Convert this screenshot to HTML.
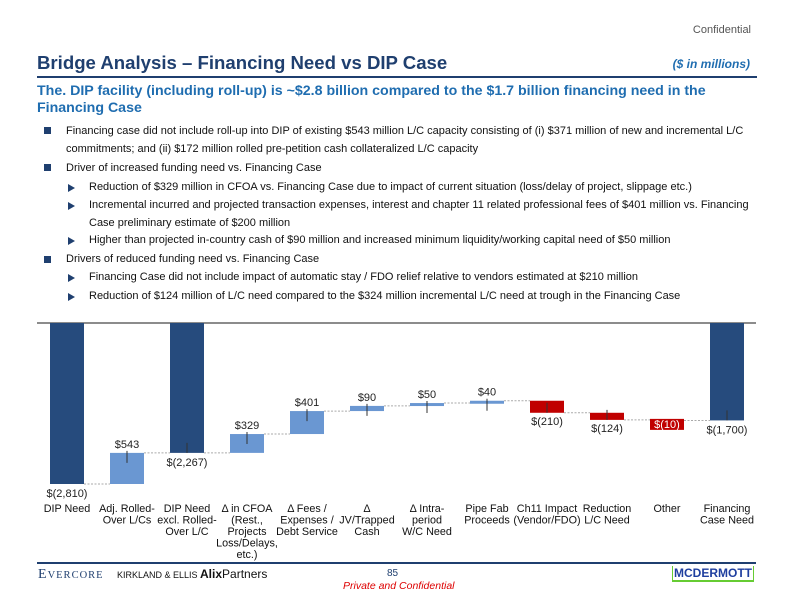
<!DOCTYPE html>
<html><head><meta charset="utf-8"><style>
body{margin:0;width:792px;height:612px;position:relative;background:#fff;font-family:"Liberation Sans",sans-serif;overflow:hidden}
.a{position:absolute;white-space:nowrap}
.b{font-size:11px;color:#111;position:absolute;left:66px;line-height:18px}
.sq{position:absolute;left:44px;width:7px;height:7px;background:#1f3f6f}
.tri{position:absolute;left:68px;width:0;height:0;border-left:7px solid #1f3f6f;border-top:4px solid transparent;border-bottom:4px solid transparent}
.s{left:89px}
</style></head><body>
<div class="a" style="right:41px;top:24px;font-size:11px;color:#555">Confidential</div>
<div class="a" style="left:37px;top:52px;font-size:18.6px;font-weight:bold;color:#1f3f6f">Bridge Analysis – Financing Need vs DIP Case</div>
<div class="a" style="right:42px;top:57px;font-size:12px;font-weight:bold;font-style:italic;color:#1f6db0">($ in millions)</div>
<div style="position:absolute;left:37px;top:76px;width:720px;height:2px;background:#1f3f6f"></div>
<div class="a" style="left:37px;top:83px;font-size:14.2px;font-weight:bold;color:#1f6db0;line-height:17px;white-space:normal;width:700px">The. DIP facility (including roll-up) is ~$2.8 billion compared to the $1.7 billion financing need in the Financing Case</div>
<div>
<div class="sq" style="top:127px"></div><div class="b" style="top:122px">Financing case did not include roll-up into DIP of existing $543 million L/C capacity consisting of (i) $371 million of new and incremental L/C<br>commitments; and (ii) $172 million rolled pre-petition cash collateralized L/C capacity</div>
<div class="sq" style="top:164px"></div><div class="b" style="top:159px">Driver of increased funding need vs. Financing Case</div>
<div class="tri" style="top:184px"></div><div class="b s" style="top:178px">Reduction of $329 million in CFOA vs. Financing Case due to impact of current situation (loss/delay of project, slippage etc.)</div>
<div class="tri" style="top:202px"></div><div class="b s" style="top:196px">Incremental incurred and projected transaction expenses, interest and chapter 11 related professional fees of $401 million vs. Financing<br>Case preliminary estimate of $200 million</div>
<div class="tri" style="top:237px"></div><div class="b s" style="top:231px">Higher than projected in-country cash of $90 million and increased minimum liquidity/working capital need of $50 million</div>
<div class="sq" style="top:256px"></div><div class="b" style="top:250px">Drivers of reduced funding need vs. Financing Case</div>
<div class="tri" style="top:274px"></div><div class="b s" style="top:268px">Financing Case did not include impact of automatic stay / FDO relief relative to vendors estimated at $210 million</div>
<div class="tri" style="top:293px"></div><div class="b s" style="top:287px">Reduction of $124 million of L/C need compared to the $324 million incremental L/C need at trough in the Financing Case</div>
</div>
<svg id="chart" width="792" height="612" style="position:absolute;left:0;top:0" font-family="Liberation Sans, sans-serif"></svg>
<div style="position:absolute;left:37px;top:562px;width:719px;height:2px;background:#1f3f6f"></div>
<div class="a" style="left:38px;top:567px;font-family:'Liberation Serif',serif;font-size:14px;color:#1f3f6f;letter-spacing:1px">E<span style="font-size:10.5px">VERCORE</span></div>
<div class="a" style="left:117px;top:570px;font-size:9px;color:#111">KIRKLAND &amp; ELLIS</div>
<div class="a" style="left:200px;top:567px;font-size:12px;color:#111"><b>Alix</b>Partners</div>
<div class="a" style="left:387px;top:568px;font-size:10px;color:#1f3f6f">85</div>
<div class="a" style="left:343px;top:580px;font-size:10.5px;font-style:italic;color:#d00">Private and Confidential</div>
<div class="a" style="left:672px;top:566px;font-size:12px;font-weight:bold;color:#1f3f9f;border-bottom:2px solid #6c3;border-left:1px solid #6c3;border-right:1px solid #6c3;padding:0 1px">MCDERMOTT</div>
<script>
const categories=[["DIP Need"],["Adj. Rolled-","Over L/Cs"],["DIP Need","excl. Rolled-","Over L/C"],["Δ in CFOA","(Rest.,","Projects","Loss/Delays,","etc.)"],["Δ Fees /","Expenses /","Debt Service"],["Δ","JV/Trapped","Cash"],["Δ Intra-","period","W/C Need"],["Pipe Fab","Proceeds"],["Ch11 Impact","(Vendor/FDO)"],["Reduction","L/C Need"],["Other"],["Financing","Case Need"]];
const values=[-2810,543,null,329,401,90,50,40,-210,-124,-10,null];
const totals=[-2810,null,-2267,null,null,null,null,null,null,null,null,-1700];
const labels=["$(2,810)","$543","$(2,267)","$329","$401","$90","$50","$40","$(210)","$(124)","$(10)","$(1,700)"];
const svg=document.getElementById('chart');const NS='http://www.w3.org/2000/svg';
const y0=323,sc=161/2810;
const y=v=>y0-v*sc;const xc=i=>67+i*60;const bw=34;
function mk(t,a){const e=document.createElementNS(NS,t);for(const k in a)e.setAttribute(k,a[k]);svg.appendChild(e);return e;}
let ax=mk('line',{x1:37,x2:756,y1:y0,y2:y0,stroke:'#666','stroke-width':1.5});


let run=0,prevEnd=null;
categories.forEach((c,i)=>{
 let top,bot,fill,end,isTot=totals[i]!==null;
 if(isTot){const t=totals[i];run=t;top=y(0);bot=y(t);fill='#264b7d';end=t;}
 else{const v=values[i];const s=run;run=s+v;top=y(Math.max(s,run));bot=y(Math.min(s,run));fill=v>=0?'#6a97d2':'#c00000';end=run;}
 if(prevEnd!==null){const l=mk('line',{x1:xc(i-1)+bw/2,x2:xc(i)-bw/2,y1:y(prevEnd),y2:y(prevEnd),stroke:'#aaa','stroke-width':1,'stroke-dasharray':'2,1.5'});
  
  }
 const v=values[i];
 const small=!isTot&&Math.abs(v)<20&&v<0;
 let rt=top,rh=Math.max(bot-top,3);
 if(small){rt=top-1;rh=11;}
 const r=mk('rect',{x:xc(i)-bw/2,y:rt,width:bw,height:rh,fill:fill});
 
 
 let ty1=null,ty2=null;
 if(isTot&&i>0){ty1=bot-10;ty2=bot;}
 else if(!isTot&&v>=0){ty1=top-2;ty2=top+10;}
 else if(!isTot&&!small){ty1=bot-10;ty2=bot;}
 if(ty1!==null){const tk=mk('line',{x1:xc(i),x2:xc(i),y1:ty1,y2:ty2,stroke:'#333','stroke-width':1});
 
 }
 let ly,lc='#222';
 if(isTot){ly=bot+13;}
 else if(small){ly=rt+9;lc='#fff';}
 else if(v>=0){ly=top-5;}else{ly=bot+12;}
 const tx=mk('text',{x:xc(i),y:ly,'text-anchor':'middle','font-size':11,fill:lc});tx.textContent=labels[i];
 
 
 c.forEach((ln,j)=>{const t=mk('text',{x:xc(i),y:512+j*11.5,'text-anchor':'middle','font-size':10.8,fill:'#111'});t.textContent=ln;
  
  });
 prevEnd=end;
});
</script>
</body></html>
